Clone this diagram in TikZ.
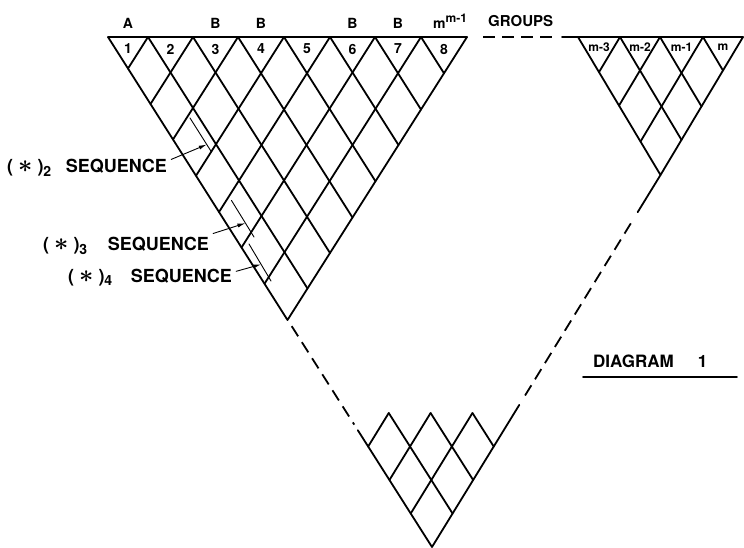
\documentclass[tikz,border=0pt]{standalone}
\usepackage{fontspec}
\setmainfont{TeX Gyre Heros}
\usetikzlibrary{arrows.meta,calc}
\newcommand{\starseq}[1]{(\hspace{5pt}{\fontsize{26}{26}\selectfont\boldmath$\ast$}\hspace{5pt})\textsubscript{\fontsize{14}{14}\selectfont#1}}

\begin{document}
\begin{tikzpicture}[x=1pt,y=-1pt,line join=round,line cap=round,
    lattice/.style={line width=1.8pt},
    gapline/.style={line width=1.8pt,line cap=butt,dash pattern=on 12pt off 7pt},
    seqline/.style={line width=0.9pt},
    seqarrow/.style={line width=0.9pt,-{Latex[length=8pt,width=4pt]}},
    cell/.style={font=\fontsize{14}{16}\selectfont\bfseries,inner sep=1pt},
    mlabel/.style={font=\fontsize{12}{14}\selectfont\bfseries,inner sep=1pt},
    seqlbl/.style={font=\fontsize{18}{20}\selectfont\bfseries,inner sep=2pt,anchor=base west}]
  \useasboundingbox (0,0) rectangle (744,547);
  \coordinate (ltop) at (108,37);
  \coordinate (ltip) at (287.5,320);
  \coordinate (rtip) at (660.5,175);
  \coordinate (btip) at (432,547);

  \draw[lattice] (ltop) -- (467,37) -- (ltip) -- cycle;
  \foreach \p in {148,193,238,284,330,375,421} {
    \draw[lattice] (\p,37) -- ({(\p+108)/2},{37+(\p-108)*0.7883});
    \draw[lattice] (\p,37) -- ({(\p+467)/2},{37+(467-\p)*0.7883});
  }
  \foreach \a/\b [count=\n] in {108/148,148/193,193/238,238/284,284/330,330/375,375/421,421/467}
    \node[cell] (c\n) at ({(\a+\b)/2},49) {\n};
  \foreach \n/\t in {1/A,3/B,4/B,6/B,7/B}
    \node[cell] (h\n) at (c\n |- 0,23) {\t};
  \node[cell,anchor=base west] (mexp) at (432,28) {m\textsuperscript{\fontsize{12}{12}\selectfont m-1}};
  \node[cell,font=\fontsize{15}{16}\selectfont\bfseries,anchor=base west] (groups) at (487,26) {GROUPS};
  \draw[gapline] (483,37) -- (552,37);

  \draw[lattice] (562,37) -- (743,37) -- (rtip) -- (578,37);
  \foreach \p in {620,660,703} {
    \draw[lattice] (\p,37) -- ({(\p+578)/2},{37+(\p-578)*0.8364});
    \draw[lattice] (\p,37) -- ({(\p+743)/2},{37+(743-\p)*0.8364});
  }
  \foreach \a/\b/\t [count=\n] in {578/620/m-3,620/660/m-2,660/703/m-1,703/743/m}
    \node[mlabel] (r\n) at ({(\a+\b)/2},47) {\t};

  \draw[lattice] (rtip) -- ($(rtip)!0.1!(btip)$);
  \draw[gapline] ($(rtip)!0.13!(btip)$) -- ($(rtip)!0.6!(btip)$);
  \draw[lattice] ($(rtip)!0.618!(btip)$) -- (btip) -- ($(btip)!0.229!(ltop)$);
  \draw[gapline] ($(ltop)!0.567!(btip)$) -- ($(ltop)!0.76!(btip)$);
  \foreach \k in {1,2,3} {
    \draw[lattice] ({432+20.58*\k},{547-33.5*\k}) -- ({432-21.28*(4-\k)+20.58*\k},413);
    \draw[lattice] ({432-21.28*\k},{547-33.5*\k}) -- ({432-21.28*\k+20.58*(4-\k)},413);
  }

  \draw[seqline] (190,118) -- coordinate[pos=0.78] (t2) (211.5,152);
  \draw[seqline] (231.5,200.5) -- coordinate[pos=0.62] (t3) (254,237);
  \draw[seqline] (249,244) -- coordinate[pos=0.55] (t4) (271,281);
  \node[seqlbl] (seq2) at (5,172) {\starseq{2}\hspace{14pt}SEQUENCE};
  \node[seqlbl] (seq3) at (41,250) {\starseq{3}\hspace{20pt}SEQUENCE};
  \node[seqlbl] (seq4) at (66,282) {\starseq{4}\hspace{18pt}SEQUENCE};
  \draw[seqarrow] ([shift={(2pt,8pt)}]seq2.east) -- (t2);
  \draw[seqarrow] ([shift={(2pt,12pt)}]seq3.east) -- (t3);
  \draw[seqarrow] ([shift={(2pt,6pt)}]seq4.east) -- (t4);

  \node[seqlbl,font=\fontsize{17}{20}\selectfont\bfseries] (diag) at (591,367) {DIAGRAM\hspace{24pt}1};
  \draw[line width=1.6pt] (583,377) -- (737,377);
\end{tikzpicture}
\end{document}
